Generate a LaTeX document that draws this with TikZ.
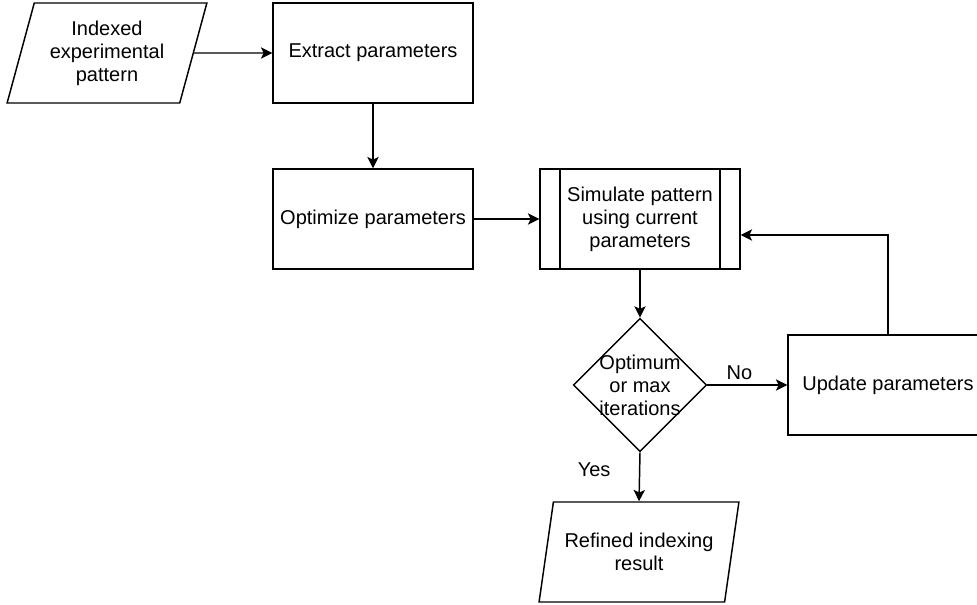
\documentclass[tikz,border=0pt]{standalone}
\usepackage{fontspec}
\setmainfont{Liberation Sans}
\usetikzlibrary{shapes.geometric,arrows.meta,positioning}
\begin{document}
\begin{tikzpicture}[x=0.75pt,y=-0.75pt,
  font=\fontsize{15pt}{17.25pt}\selectfont,
  line width=1.1pt,
  every node/.style={align=center},
  box/.style={draw,rectangle,minimum width=150pt,minimum height=75pt},
  io/.style={draw,trapezium,trapezium left angle=71.7,trapezium right angle=108.3,trapezium stretches=true,minimum width=150pt,minimum height=75pt,inner sep=0pt},
  proc/.style={box,path picture={\draw ([xshift=15pt]path picture bounding box.north west)--([xshift=15pt]path picture bounding box.south west) ([xshift=-15pt]path picture bounding box.north east)--([xshift=-15pt]path picture bounding box.south east);}},
  decision/.style={draw,diamond,minimum width=100pt,minimum height=100pt,inner sep=0pt},
  >={Stealth[length=8.5pt,width=8.5pt,inset=2pt]}]
\useasboundingbox (0,0) rectangle (977,605);
\node[io] (inp) at (107,53) {Indexed\\experimental\\pattern};
\node[box] (extract) at (373,53) {Extract parameters};
\node[box] (optimize) at (373,219) {Optimize parameters};
\node[proc] (simulate) at (640,219) {Simulate pattern\\using current\\parameters};
\node[decision,label={[align=center]center:Optimum\\or max\\iterations}] (decide) at (640,385) {};
\node[box] (update) at (888,385) {Update parameters};
\node[io] (result) at (639,552) {Refined indexing\\result};
\coordinate (ret) at (888,235);
\draw[->] (inp.east)--(extract.west);
\draw[->] (extract.south)--(optimize.north);
\draw[->] (optimize.east)--(simulate.west);
\draw[->] (simulate.south)--(decide.north);
\draw[->] (decide.east)--node[pos=0.4,above]{No}(update.west);
\draw[->] (decide.south)--node[pos=0.35,left=18pt]{Yes}(result.north);
\draw[->] (update.north)--(ret)--(ret-|simulate.east);
\end{tikzpicture}
\end{document}
